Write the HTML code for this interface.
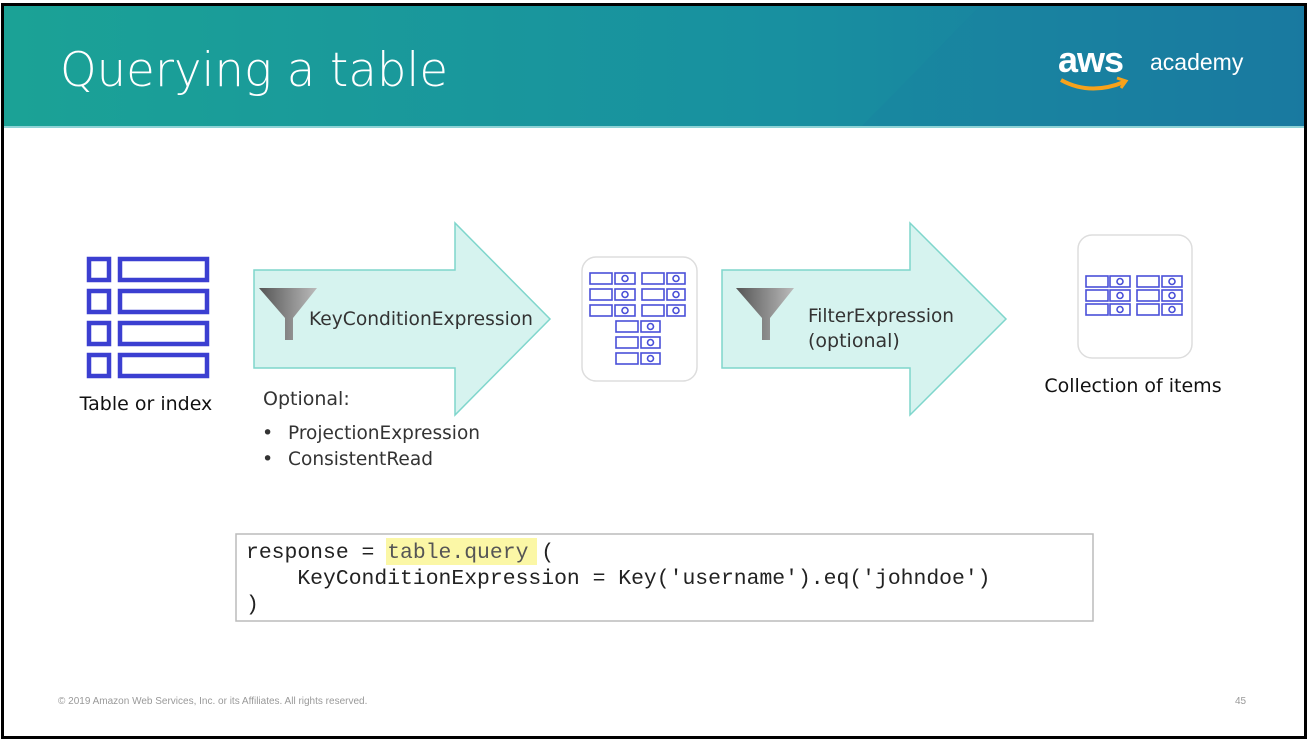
<!DOCTYPE html>
<html><head><meta charset="utf-8"><style>
html,body{margin:0;padding:0;background:#fff;}
svg{display:block;}
</style></head><body>
<svg width="1309" height="742" viewBox="0 0 1309 742" xmlns="http://www.w3.org/2000/svg" font-family="Liberation Sans, DejaVu Sans, sans-serif">
<defs>
<linearGradient id="hd" x1="0" y1="0" x2="1" y2="0">
<stop offset="0" stop-color="#1ba296"/><stop offset="0.6" stop-color="#1890a0"/><stop offset="1" stop-color="#1a76a0"/>
</linearGradient>
<linearGradient id="fn" x1="0" y1="0" x2="1" y2="0">
<stop offset="0" stop-color="#555"/><stop offset="1" stop-color="#bbb"/>
</linearGradient>
</defs>
<rect x="0" y="0" width="1309" height="742" fill="#fff"/>
<rect x="4" y="6" width="1300" height="122" fill="url(#hd)"/>
<polygon points="980,6 1304,6 1304,128 860,128" fill="#1a80a0" opacity="0.35"/>
<rect x="4" y="126" width="1300" height="2" fill="#8fd3d6"/>
<text x="60" y="86" font-size="47" fill="#fff" font-family="DejaVu Sans, sans-serif" style="font-weight:200" textLength="388" lengthAdjust="spacingAndGlyphs">Querying a table</text>
<text x="1058" y="72" font-size="36" fill="#fff" font-weight="bold" letter-spacing="-1">aws</text>
<text x="1150" y="70" font-size="23" fill="#fff">academy</text>
<path d="M1061,80 Q1090,96 1124,82" stroke="#f7a21b" stroke-width="4" fill="none"/>
<path d="M1117,78 L1126,81 L1121,88" stroke="#f7a21b" stroke-width="3" fill="none"/>
<rect x="2.5" y="4.5" width="1303" height="733" fill="none" stroke="#000" stroke-width="3"/>

<g fill="none" stroke="#3b3fd1" stroke-width="4.5">
<rect x="89" y="259" width="20" height="21"/><rect x="120" y="259" width="87" height="21"/>
<rect x="89" y="291" width="20" height="21"/><rect x="120" y="291" width="87" height="21"/>
<rect x="89" y="323" width="20" height="21"/><rect x="120" y="323" width="87" height="21"/>
<rect x="89" y="355" width="20" height="21"/><rect x="120" y="355" width="87" height="21"/>
</g>
<text x="146" y="410" font-size="19" fill="#111" text-anchor="middle" font-family="DejaVu Sans, sans-serif">Table or index</text>

<polygon points="254,270 455,270 455,223 550,319 455,415 455,368 254,368" fill="#d6f3ef" stroke="#7fd6cc" stroke-width="1.5"/>
<polygon points="722,270 910,270 910,223 1006,319 910,415 910,368 722,368" fill="#d6f3ef" stroke="#7fd6cc" stroke-width="1.5"/>

<polygon points="259,288 317,288 293,318 293,340 285,340 285,318" fill="url(#fn)"/>
<polygon points="736,288 794,288 770,318 770,340 762,340 762,318" fill="url(#fn)"/>

<g font-family="DejaVu Sans, sans-serif" fill="#333">
<text x="309" y="325" font-size="19" textLength="224" lengthAdjust="spacingAndGlyphs">KeyConditionExpression</text>
<text x="808" y="322" font-size="19" textLength="146" lengthAdjust="spacingAndGlyphs">FilterExpression</text>
<text x="808" y="347" font-size="19">(optional)</text>
<text x="263" y="405" font-size="19">Optional:</text>
<text x="262" y="439" font-size="19">•</text><text x="288" y="439" font-size="19" textLength="192" lengthAdjust="spacingAndGlyphs">ProjectionExpression</text>
<text x="262" y="465" font-size="19">•</text><text x="288" y="465" font-size="19" textLength="145" lengthAdjust="spacingAndGlyphs">ConsistentRead</text>
<text x="1133" y="392" font-size="19" fill="#111" text-anchor="middle">Collection of items</text>
</g>

<rect x="582" y="257" width="115" height="124" rx="14" fill="#fff" stroke="#ddd" stroke-width="1.5"/>
<g fill="none" stroke="#4a50d8" stroke-width="1.6">
<g id="r1"><rect x="590" y="273" width="22" height="11"/><rect x="615" y="273" width="20" height="11"/><circle cx="625" cy="278.5" r="3"/><rect x="642" y="273" width="22" height="11"/><rect x="667" y="273" width="18" height="11"/><circle cx="676" cy="278.5" r="3"/></g>
<use href="#r1" y="16"/><use href="#r1" y="32"/>
<g id="r2"><rect x="616" y="321" width="22" height="11"/><rect x="641" y="321" width="19" height="11"/><circle cx="650.5" cy="326.5" r="3"/></g>
<use href="#r2" y="16"/><use href="#r2" y="32"/>
</g>

<rect x="1078" y="235" width="114" height="123" rx="14" fill="#fff" stroke="#ddd" stroke-width="1.5"/>
<g fill="none" stroke="#4a50d8" stroke-width="1.6">
<g id="r3"><rect x="1086" y="276" width="22" height="11"/><rect x="1110" y="276" width="20" height="11"/><circle cx="1120" cy="281.5" r="3"/><rect x="1137" y="276" width="22" height="11"/><rect x="1162" y="276" width="20" height="11"/><circle cx="1172" cy="281.5" r="3"/></g>
<use href="#r3" y="14"/><use href="#r3" y="28"/>
</g>

<rect x="236" y="534" width="857" height="87" fill="#fff" stroke="#bbb" stroke-width="1.5"/>
<rect x="386" y="538" width="151" height="27" fill="#fbf7a6"/>
<g font-family="Liberation Mono, monospace" font-size="21.4" fill="#222">
<text x="246" y="558" xml:space="preserve">response = <tspan fill="#555">table.query</tspan> (</text>
<text x="246" y="584" xml:space="preserve">    KeyConditionExpression = Key('username').eq('johndoe')</text>
<text x="246" y="610">)</text>
</g>

<text x="58" y="704" font-size="10" fill="#999">© 2019 Amazon Web Services, Inc. or its Affiliates. All rights reserved.</text>
<text x="1235" y="704" font-size="10" fill="#999">45</text>
</svg>
</body></html>
